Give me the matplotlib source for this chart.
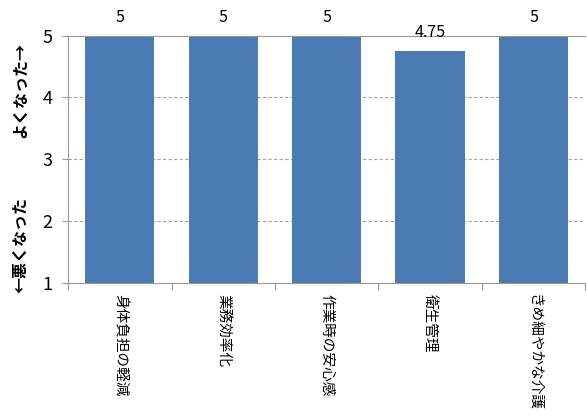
import matplotlib
matplotlib.use('Agg')
import matplotlib.pyplot as plt

plt.rcParams['font.family'] = ['Noto Sans CJK JP', 'DejaVu Sans']

categories = ['身体負担の軽減', '業務効率化', '作業時の安心感', '衛生管理', 'きめ細やかな介護']
values = [5, 5, 5, 4.75, 5]
value_labels = ['5', '5', '5', '4.75', '5']

bar_colour = '#4a7bb3'
axis_colour = '#a09590'

fig = plt.figure(figsize=(5.87, 4.19), dpi=100)
ax = fig.add_axes([0.116, 0.325, 0.881, 0.590])

x = list(range(len(categories)))
bars = ax.bar(x, values, width=0.67, color=bar_colour, zorder=2)

for xi, v, lab in zip(x, values, value_labels):
    ax.annotate(lab, (xi, v), xytext=(0, 7), textcoords='offset points',
                ha='center', va='bottom', fontsize=11.5, color='black',
                annotation_clip=False)

ax.set_xlim(-0.5, len(categories) - 0.5)
ax.set_ylim(1, 5)
ax.set_yticks([1, 2, 3, 4, 5])
ax.tick_params(axis='y', labelsize=13, length=4, color=axis_colour, pad=7)

for yv in [2, 3, 4]:
    ax.axhline(yv, color='#b0a09a', linestyle=(0, (3, 2)), linewidth=0.8, zorder=1)

# category boundaries as ticks, names as minor labels
ax.set_xticks([i - 0.5 for i in range(len(categories) + 1)])
ax.set_xticklabels([])
ax.tick_params(axis='x', which='major', length=5, color=axis_colour)
ax.set_xticks(x, minor=True)
ax.set_xticklabels(categories, minor=True, rotation=-90, va='top', ha='center', fontsize=10.5)
ax.tick_params(axis='x', which='minor', length=0, pad=8)

for s in ['left', 'bottom', 'top']:
    ax.spines[s].set_color(axis_colour)
ax.spines['right'].set_visible(False)

fig.text(0.034, 0.785, 'よくなった→', rotation=90, ha='center', va='center',
         fontsize=11.5, fontweight='bold')
fig.text(0.034, 0.415, '←悪くなった', rotation=90, ha='center', va='center',
         fontsize=11.5, fontweight='bold')

fig.savefig('out.png', dpi=100)
